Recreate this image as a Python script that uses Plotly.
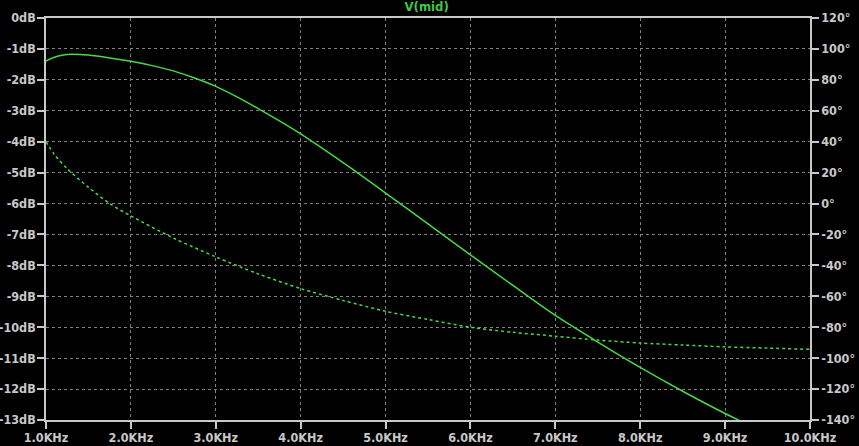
import plotly.graph_objects as go

# Frequencies in kHz
freq_mag = [1.0, 1.1, 1.2, 1.3, 1.5, 1.75, 2.0, 2.25, 2.5, 2.75, 3.0, 3.25, 3.5, 3.75,
            4.0, 4.5, 5.0, 5.5, 6.0, 6.5, 7.0, 7.5, 8.0, 8.5, 9.0, 9.5, 10.0]
mag_db = [-1.39, -1.27, -1.20, -1.17, -1.20, -1.29, -1.40, -1.54, -1.71, -1.94, -2.21,
          -2.55, -2.93, -3.33, -3.75, -4.68, -5.66, -6.66, -7.66, -8.65, -9.62,
          -10.48, -11.30, -12.07, -12.79, -13.45, -14.10]

freq_ph = [1.0, 1.1, 1.25, 1.5, 1.75, 2.0, 2.5, 3.0, 3.5, 4.0, 4.5, 5.0, 5.5, 6.0,
           6.5, 7.0, 7.5, 8.0, 8.5, 9.0, 9.5, 10.0]
phase_deg = [40.0, 31.7, 22.5, 10.5, 0.0, -8.0, -22.3, -34.5, -45.5, -55.0, -62.7,
             -69.7, -75.0, -80.0, -83.3, -85.8, -88.3, -90.2, -91.5, -92.7, -93.5, -94.3]

x_ticks = [1, 2, 3, 4, 5, 6, 7, 8, 9, 10]
x_labels = ["%.1fKHz" % v for v in x_ticks]
y_ticks = list(range(0, -14, -1))
y_labels = ["%ddB" % v for v in y_ticks]
y2_ticks = list(range(120, -160, -20))
y2_labels = ["%d°" % v for v in y2_ticks]

GREEN = "#48d848"
AXIS = "#c8c8c8"
GRID = "#808080"
FONT = dict(family="DejaVu Sans Condensed, DejaVu Sans", size=12.5, color=AXIS, weight="bold")

fig = go.Figure()
fig.add_trace(go.Scatter(x=freq_mag, y=mag_db, mode="lines",
                         line=dict(color=GREEN, width=1.5, shape="spline", smoothing=0.8),
                         yaxis="y", showlegend=False, hoverinfo="skip"))
fig.add_trace(go.Scatter(x=freq_ph, y=phase_deg, mode="lines",
                         line=dict(color=GREEN, width=1.5, dash="3px,3px",
                                   shape="spline", smoothing=0.8),
                         yaxis="y2", showlegend=False, hoverinfo="skip"))

fig.update_layout(
    width=859, height=446,
    margin=dict(l=46, r=49, t=18, b=26, autoexpand=False),
    paper_bgcolor="black", plot_bgcolor="black",
    font=FONT,
    title=dict(text="V(mid)", x=428 / 859, xref="paper", xanchor="center",
               y=1 - 2 / 446, yref="container", yanchor="top",
               font=dict(family="DejaVu Sans Condensed, DejaVu Sans", size=13,
                         color="#40c840", weight="bold")),
    xaxis=dict(range=[1, 10], tickvals=x_ticks, ticktext=x_labels, automargin=False,
               showgrid=True, gridcolor=GRID, griddash="3px,3px", gridwidth=1,
               showline=True, linecolor=AXIS, linewidth=1.5, mirror=True,
               ticks="outside", ticklen=7, tickcolor=AXIS, tickwidth=1.5,
               ticklabelstandoff=-2,
               zeroline=False, tickfont=FONT),
    yaxis=dict(range=[-13, 0], tickvals=y_ticks, ticktext=y_labels, automargin=False,
               showgrid=True, gridcolor=GRID, griddash="3px,3px", gridwidth=1,
               showline=True, linecolor=AXIS, linewidth=1.5,
               ticks="outside", ticklen=7, tickcolor=AXIS, tickwidth=1.5,
               ticklabelstandoff=-1,
               zeroline=False, tickfont=FONT),
    yaxis2=dict(range=[-140, 120], tickvals=y2_ticks, ticktext=y2_labels, automargin=False,
                overlaying="y", side="right", showgrid=False,
                showline=True, linecolor=AXIS, linewidth=1.5,
                ticks="outside", ticklen=7, tickcolor=AXIS, tickwidth=1.5,
                zeroline=False, tickfont=FONT),
)

fig.write_html(
    "out.html",
    config={"displayModeBar": False},
    post_script="document.body.style.margin='0';document.body.style.background='black';",
)
